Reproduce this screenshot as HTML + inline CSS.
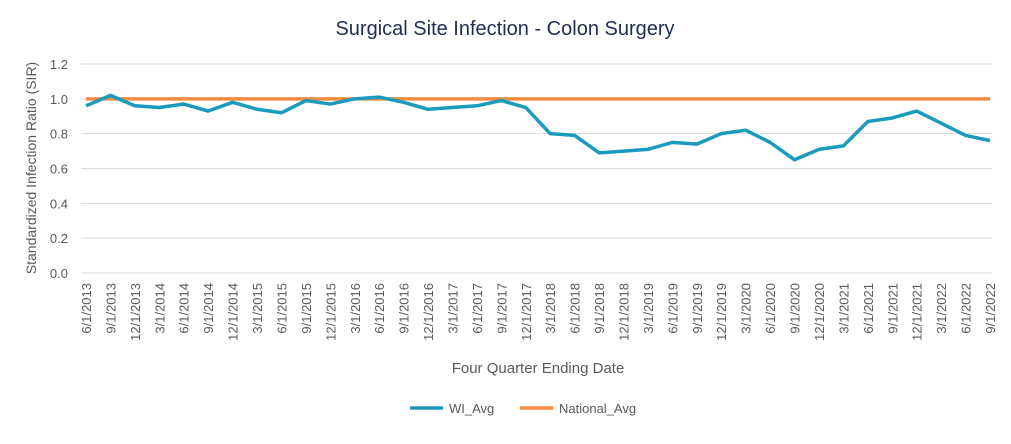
<!DOCTYPE html>
<html><head><meta charset="utf-8"><style>
body{margin:0;background:#fff;}
svg text{font-family:"Liberation Sans",sans-serif;fill:#595959;}
</style></head><body>
<svg id="chart" width="1011" height="439">
<text x="505" y="35" text-anchor="middle" style="font-size:20px;fill:#1f2d55">Surgical Site Infection - Colon Surgery</text>
<text transform="translate(36,168) rotate(-90)" text-anchor="middle" style="font-size:14px">Standardized Infection Ratio (SIR)</text>
<text x="538" y="373" text-anchor="middle" style="font-size:15px">Four Quarter Ending Date</text>
<g id="grid"></g><g id="ylabels"></g><g id="xlabels"></g><g id="series"></g>
<g>
<line x1="410" y1="408" x2="443" y2="408" stroke="#1a9bbd" stroke-width="3.5"/>
<text x="449" y="413" style="font-size:13px">WI_Avg</text>
<line x1="520" y1="408" x2="553" y2="408" stroke="#f08c40" stroke-width="3.5"/>
<text x="559" y="413" style="font-size:13px">National_Avg</text>
</g>
</svg>
<script>
const categories=[];
const months=[6,9,12,3];
(function(){let m=6,y=2013;for(let i=0;i<38;i++){categories.push(m+"/1/"+y);m+=3;if(m>12){m=3;y++;}}})();
const wiAvg=[0.96,1.02,0.96,0.95,0.97,0.93,0.98,0.94,0.92,0.99,0.97,1.00,1.01,0.98,0.94,0.95,0.96,0.99,0.95,0.80,0.79,0.69,0.70,0.71,0.75,0.74,0.80,0.82,0.75,0.65,0.71,0.73,0.87,0.89,0.93,0.86,0.79,0.76];
const nationalAvg=[1,1,1,1,1,1,1,1,1,1,1,1,1,1,1,1,1,1,1,1,1,1,1,1,1,1,1,1,1,1,1,1,1,1,1,1,1,1];
const yTicks=[0,0.2,0.4,0.6,0.8,1.0,1.2];
const NS="http://www.w3.org/2000/svg";
const x=i=>86+i*(990-86)/(categories.length-1);
const y=v=>273-v*(273-64)/1.2;
function mk(t,a,p){const e=document.createElementNS(NS,t);for(const k in a)e.setAttribute(k,a[k]);p.appendChild(e);return e;}
const grid=document.getElementById('grid'),yl=document.getElementById('ylabels'),xl=document.getElementById('xlabels'),se=document.getElementById('series');
yTicks.forEach(v=>{
 const l=mk('line',{x1:81,x2:992,y1:y(v),y2:y(v),stroke:'#d9d9d9','stroke-width':1},grid);
 
 
 const t=mk('text',{x:68,y:y(v)+5,'text-anchor':'end','font-size':13},yl);
 t.textContent=v.toFixed(1);
 
 
});
categories.forEach((c,i)=>{
 const t=mk('text',{transform:`translate(${x(i)+5},283) rotate(-90)`,'text-anchor':'end','font-size':13},xl);
 t.textContent=c;
 
 
});
function line(vals,color,name){
 const p=mk('polyline',{points:vals.map((v,i)=>x(i)+','+y(v)).join(' '),fill:'none',stroke:color,'stroke-width':3.5,'stroke-linejoin':'round'},se);
 
 
}
line(nationalAvg,'#f08c40','national-avg-line');
line(wiAvg,'#1a9bbd','wi-avg-line');
</script>
</body></html>
